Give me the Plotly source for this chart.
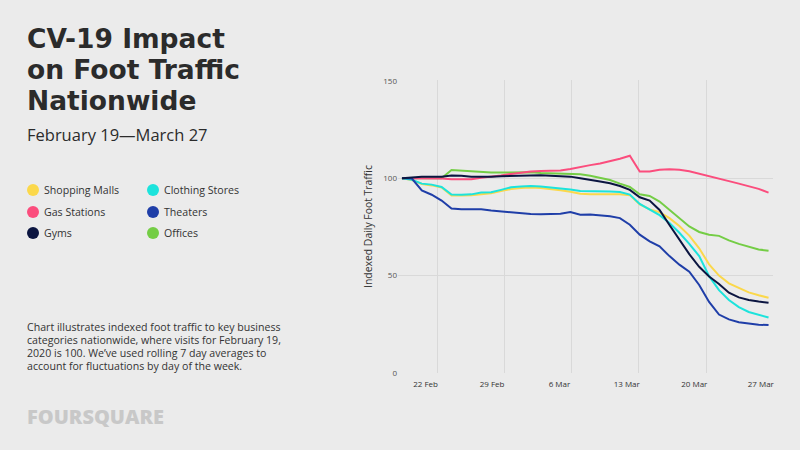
import pandas as pd
import plotly.graph_objects as go

# ---------------- data ----------------
dates = pd.date_range("2020-02-19", "2020-03-27", freq="D")

shopping_malls = [100, 99, 97, 96.3, 95.2, 91.1, 91.1, 91.2, 91.8, 92.2, 93.4, 94.4, 95.0, 95.2, 95.0,
                  94.5, 93.8, 93.0, 92.0, 91.7, 91.7, 91.7, 91.7, 91.3, 86.5, 84.0, 82.5, 79.5, 75.5,
                  70.5, 64.0, 55.8, 50.0, 46.0, 43.5, 41.4, 39.9, 38.6]
gas_stations = [100, 100, 100, 100, 99.8, 99.4, 99.3, 99.5, 100.2, 100.7, 101.4, 102.2, 102.9, 103.4,
                103.7, 103.8, 103.9, 104.7, 105.8, 106.7, 107.5, 108.6, 110.0, 111.5, 103.4, 103.4,
                104.3, 104.6, 104.3, 103.6, 102.4, 101.2, 99.8, 98.5, 97.2, 95.8, 94.5, 92.6]
gyms = [100, 100.5, 100.7, 100.8, 100.7, 101.4, 101.3, 100.7, 100.6, 100.8, 101.0, 101.2, 101.2, 101.4,
        101.5, 101.3, 101.1, 100.8, 100.0, 99.3, 98.3, 97.4, 96.0, 94.0, 90.2, 88.5, 83.7, 76.0, 68.2,
        61.0, 54.5, 49.5, 45.7, 41.2, 38.8, 37.5, 36.7, 36.1]
clothing_stores = [100, 99.2, 97.2, 96.7, 95.5, 91.6, 91.5, 91.7, 92.6, 92.8, 94.0, 95.3, 95.7, 96.0,
                   95.7, 95.3, 94.7, 94.2, 93.4, 93.4, 93.4, 93.2, 92.9, 91.6, 86.8, 83.8, 81.0, 77.0,
                   72.0, 66.3, 60.0, 49.7, 42.5, 37.5, 33.8, 31.3, 29.7, 28.5]
theaters = [100, 99.8, 93.7, 91.5, 88.5, 84.4, 84.1, 84.0, 84.0, 83.4, 82.9, 82.3, 81.9, 81.6, 81.5,
            81.6, 81.7, 82.6, 81.2, 81.3, 80.8, 80.5, 79.5, 76.1, 71.0, 67.6, 65.0, 60.0, 55.6, 52.0,
            45.2, 36.5, 30.0, 27.5, 26.1, 25.3, 24.8, 24.6]
offices = [100, 100, 100, 100, 100, 104.2, 103.9, 103.5, 103.1, 102.9, 102.9, 103.0, 103.1, 103.0,
           102.7, 102.6, 102.5, 102.3, 102.0, 101.2, 100.2, 99.1, 97.2, 95.5, 91.7, 90.9, 88.0, 83.8,
           79.5, 75.2, 72.4, 71.0, 70.4, 68.1, 66.3, 64.7, 63.4, 62.8]

x_tick_labels = ["22 Feb", "29 Feb", "6 Mar", "13 Mar", "20 Mar", "27 Mar"]
y_tick_values = [0, 50, 100, 150]

# ---------------- style ----------------
BG = "#ebebeb"
FONT = "Open Sans"
TITLE_FONT = "DejaVu Sans"
colors = {
    "Shopping Malls": "#fbd84b",
    "Gas Stations": "#fb4d7d",
    "Gyms": "#0b1540",
    "Clothing Stores": "#1ce3dc",
    "Theaters": "#1f3ea8",
    "Offices": "#74cd45",
}
series = {
    "Offices": offices,
    "Gas Stations": gas_stations,
    "Shopping Malls": shopping_malls,
    "Clothing Stores": clothing_stores,
    "Theaters": theaters,
    "Gyms": gyms,
}

# plot area in pixels
PL, PR, PT, PB = 398, 773, 80, 373
W, H = 800, 450

def px(x):
    return (x - PL) / (PR - PL)

def py(y):
    return (PB - y) / (PB - PT)

fig = go.Figure()
for name, vals in series.items():
    fig.add_trace(go.Scatter(x=dates, y=vals, mode="lines", name=name,
                             line=dict(color=colors[name], width=2), showlegend=False))

base = pd.Timestamp("2020-02-19")
tick_offsets = [3.60, 10.31, 17.11, 23.90, 30.72, 37.43]
tickvals = [base + pd.Timedelta(days=d) for d in tick_offsets]
xrange = [base + pd.Timedelta(days=-0.40), base + pd.Timedelta(days=37.45)]

fig.update_layout(
    width=W, height=H,
    paper_bgcolor=BG, plot_bgcolor=BG,
    margin=dict(l=PL, r=W - PR, t=PT, b=H - PB),
    font=dict(family=FONT, color="#333333"),
    showlegend=False,
)
fig.update_xaxes(
    range=xrange, tickvals=tickvals, ticktext=x_tick_labels,
    showgrid=True, gridcolor="#d9d9d9", gridwidth=1,
    zeroline=False, showline=False, ticks="",
    tickfont=dict(size=8, color="#333333", family=FONT),
    ticklabelshift=-12, ticklabelstandoff=5,
)
fig.update_yaxes(
    range=[0, 150.4], tickvals=y_tick_values,
    showgrid=True, gridcolor="#d9d9d9", gridwidth=1,
    zeroline=False, showline=False, ticks="",
    tickfont=dict(size=8, color="#555555", family=FONT),
    title=dict(text="Indexed Daily Foot Traffic", font=dict(size=10.4, color="#333333", family=FONT),
               standoff=8),
)

ann = []
def text(x, y, s, size, color="#2b2b2b", weight="normal", family=FONT):
    ann.append(dict(x=px(x), y=py(y), xref="paper", yref="paper", text=s, showarrow=False,
                    xanchor="left", yanchor="middle",
                    font=dict(size=size, color=color, family=family, weight=weight)))

# title
text(25, 39, "CV-19 Impact", 26.5, weight="bold", family=TITLE_FONT)
text(25, 70, "on Foot Traffic", 26.5, weight="bold", family=TITLE_FONT)
text(25, 101, "Nationwide", 26.5, weight="bold", family=TITLE_FONT)
text(25, 134, "February 19\u2014March 27", 16.5)

# legend
legend_items = [("Shopping Malls", 33, 190), ("Clothing Stores", 153, 190),
                ("Gas Stations", 33, 212), ("Theaters", 153, 212),
                ("Gyms", 33, 233), ("Offices", 153, 233)]
shapes = []
r = 6
for name, cx, cy in legend_items:
    shapes.append(dict(type="circle", xref="paper", yref="paper",
                       x0=px(cx - r), x1=px(cx + r), y0=py(cy + r), y1=py(cy - r),
                       fillcolor=colors[name], line=dict(width=0)))
    text(cx + 9, cy, name, 10.6, color="#333333")

# description
desc = ["Chart illustrates indexed foot traffic to key business",
        "categories nationwide, where visits for February 19,",
        "2020 is 100. We\u2019ve used rolling 7 day averages to",
        "account for fluctuations by day of the week."]
for k, line in enumerate(desc):
    text(25, 327 + 13 * k, line, 10.6, color="#333333")

# logo
text(25, 416, "FOURSQUARE", 20, color="#c8c8c8", weight=800)

fig.update_layout(annotations=ann, shapes=shapes)
fig.write_html("out.html", config={"displayModeBar": False},
               post_script="document.body.style.margin='0';")
